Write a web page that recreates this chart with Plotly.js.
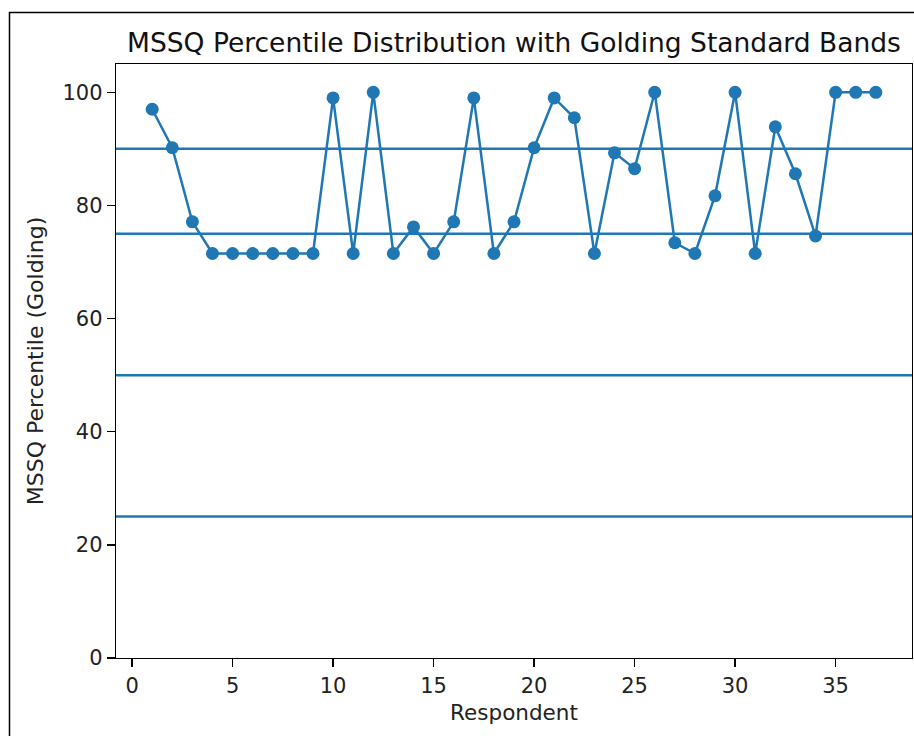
<!DOCTYPE html>
<html>
<head>
<meta charset="utf-8">
<script src="https://cdn.plot.ly/plotly-3.0.1.min.js"></script>
<style>html,body{margin:0;padding:0;background:#fff;}#chart{width:914px;height:736px;}</style>
</head>
<body>
<div id="chart"></div>
<script>
// Data
const respondents = [1,2,3,4,5,6,7,8,9,10,11,12,13,14,15,16,17,18,19,20,21,22,23,24,25,26,27,28,29,30,31,32,33,34,35,36,37];
const percentiles = [97.0,90.2,77.1,71.5,71.5,71.5,71.5,71.5,71.5,99.0,71.5,100,71.5,76.2,71.5,77.1,99.0,71.5,77.1,90.2,99.0,95.5,71.5,89.3,86.5,100,73.4,71.5,81.7,100,71.5,93.9,85.6,74.6,100,100,100];
const bands = [25, 50, 75, 90];
const xTicks = [0,5,10,15,20,25,30,35];
const yTicks = [0,20,40,60,80,100];
const color = '#1f77b4';
const FONT = 'DejaVu Sans, sans-serif';

const shapes = bands.map(b => ({
  type: 'line', xref: 'paper', yref: 'y', x0: 0, x1: 1, y0: b, y1: b,
  line: {color: color, width: 2.5}, layer: 'below'
}));
// outer frame of the figure
shapes.push({type:'rect', xref:'paper', yref:'paper', x0:-0.1338, x1:1.5, y0:-0.5, y1:1.0867,
  line:{color:'#000', width:1.5}, fillcolor:'rgba(0,0,0,0)'});

const trace = {
  x: respondents, y: percentiles, type: 'scatter', mode: 'lines+markers',
  line: {color: color, width: 2.5},
  marker: {color: color, size: 13},
  cliponaxis: false, showlegend: false
};

const layout = {
  width: 914, height: 736,
  margin: {l: 116, r: 2, t: 64, b: 78, pad: 0},
  paper_bgcolor: '#fff', plot_bgcolor: '#fff',
  font: {family: FONT, color: '#222', size: 21},
  title: {text: 'MSSQ Percentile Distribution with Golding Standard Bands',
    font: {family: FONT, size: 26.5, color: '#111'},
    x: 0.5, xref: 'paper', xanchor: 'center', y: 1, yref: 'paper', yanchor: 'bottom', pad: {b: 12}},
  xaxis: {
    range: [-0.8, 38.8], tickvals: xTicks, ticktext: xTicks.map(String),
    showgrid: false, zeroline: false, showline: true, linecolor: '#000', linewidth: 1.3, mirror: true,
    ticks: 'outside', ticklen: 8, tickwidth: 1.3, tickcolor: '#000',
    tickfont: {family: FONT, size: 21, color: '#222'},
    title: {text: 'Respondent', font: {family: FONT, size: 21.5, color: '#222'}, standoff: 8}
  },
  yaxis: {
    range: [0, 105], tickvals: yTicks, ticktext: yTicks.map(String),
    showgrid: false, zeroline: false, showline: true, linecolor: '#000', linewidth: 1.3, mirror: true,
    ticks: 'outside', ticklen: 8, tickwidth: 1.3, tickcolor: '#000',
    tickfont: {family: FONT, size: 21, color: '#222'},
    title: {text: 'MSSQ Percentile (Golding)', font: {family: FONT, size: 22, color: '#222'}, standoff: 12}
  },
  shapes: shapes
};

Plotly.newPlot('chart', [trace], layout, {displayModeBar: false, staticPlot: true});
</script>
</body>
</html>
